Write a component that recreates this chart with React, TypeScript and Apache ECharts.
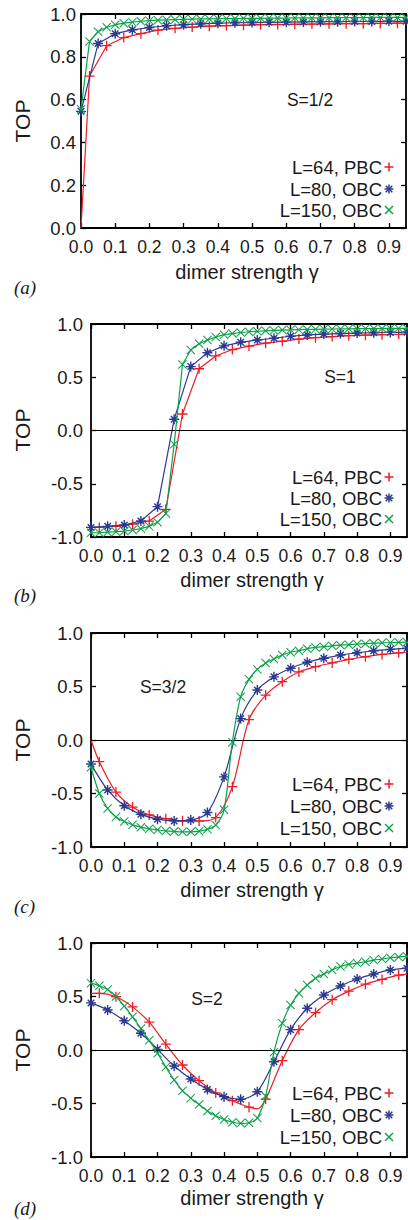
import React, { useEffect, useRef } from "react";
import * as echarts from "echarts";

// ---------- data ----------
const X_FINE = [0, 0.025, 0.05, 0.075, 0.1, 0.125, 0.15, 0.175, 0.2, 0.225, 0.25, 0.275, 0.3, 0.325, 0.35, 0.375, 0.4, 0.425, 0.45, 0.475, 0.5, 0.525, 0.55, 0.575, 0.6, 0.625, 0.65, 0.675, 0.7, 0.725, 0.75, 0.775, 0.8, 0.825, 0.85, 0.875, 0.9, 0.925, 0.95];
const X_COARSE = [0, 0.05, 0.1, 0.15, 0.2, 0.25, 0.3, 0.35, 0.4, 0.45, 0.5, 0.55, 0.6, 0.65, 0.7, 0.75, 0.8, 0.85, 0.9, 0.95];
const X_RED = [0, 0.025, 0.075, 0.125, 0.175, 0.225, 0.275, 0.325, 0.375, 0.425, 0.475, 0.525, 0.575, 0.625, 0.675, 0.725, 0.775, 0.825, 0.875, 0.925, 0.95];
const X_RED_D = [0, 0.025, 0.075, 0.125, 0.175, 0.225, 0.275, 0.325, 0.375, 0.425, 0.475, 0.5, 0.525, 0.575, 0.625, 0.675, 0.725, 0.775, 0.825, 0.875, 0.925, 0.95];

const RED_A = [0.0, 0.71, 0.852, 0.89, 0.908, 0.925, 0.933, 0.939, 0.943, 0.946, 0.948, 0.95, 0.951, 0.952, 0.953, 0.954, 0.955, 0.955, 0.956, 0.957, 0.957];
const BLUE_A = [0.545, 0.862, 0.908, 0.926, 0.937, 0.945, 0.95, 0.954, 0.957, 0.959, 0.96, 0.961, 0.962, 0.963, 0.964, 0.964, 0.965, 0.965, 0.966, 0.966];
const GREEN_A = [0.555, 0.872, 0.917, 0.938, 0.95, 0.957, 0.962, 0.966, 0.969, 0.971, 0.973, 0.974, 0.975, 0.976, 0.977, 0.977, 0.978, 0.979, 0.979, 0.98, 0.98, 0.98, 0.981, 0.981, 0.981, 0.982, 0.982, 0.982, 0.982, 0.983, 0.983, 0.983, 0.983, 0.983, 0.984, 0.984, 0.984, 0.984, 0.984];

const RED_B = [-0.91, -0.91, -0.9, -0.88, -0.85, -0.74, 0.155, 0.58, 0.7, 0.76, 0.793, 0.82, 0.838, 0.858, 0.872, 0.882, 0.89, 0.895, 0.9, 0.903, 0.905];
const BLUE_B = [-0.91, -0.9, -0.887, -0.85, -0.715, 0.105, 0.6, 0.73, 0.795, 0.828, 0.85, 0.866, 0.885, 0.897, 0.905, 0.91, 0.915, 0.918, 0.921, 0.922];
const GREEN_B = [-0.96, -0.96, -0.955, -0.95, -0.944, -0.934, -0.922, -0.9, -0.862, -0.78, -0.13, 0.62, 0.756, 0.815, 0.85, 0.878, 0.9, 0.91, 0.92, 0.927, 0.932, 0.936, 0.94, 0.943, 0.945, 0.947, 0.949, 0.95, 0.952, 0.953, 0.954, 0.955, 0.956, 0.957, 0.957, 0.958, 0.958, 0.959, 0.959];

const RED_C = [0.0, -0.203, -0.487, -0.627, -0.7, -0.735, -0.755, -0.757, -0.725, -0.436, 0.19, 0.42, 0.545, 0.636, 0.685, 0.72, 0.754, 0.778, 0.8, 0.815, 0.82];
const BLUE_C = [-0.225, -0.467, -0.615, -0.695, -0.74, -0.756, -0.748, -0.678, -0.345, 0.2, 0.467, 0.59, 0.67, 0.727, 0.764, 0.794, 0.815, 0.834, 0.847, 0.857];
const GREEN_C = [-0.255, -0.5, -0.64, -0.72, -0.762, -0.792, -0.815, -0.83, -0.84, -0.85, -0.855, -0.858, -0.858, -0.852, -0.835, -0.795, -0.652, -0.02, 0.405, 0.567, 0.66, 0.72, 0.757, 0.794, 0.82, 0.835, 0.853, 0.865, 0.872, 0.88, 0.886, 0.891, 0.897, 0.9, 0.905, 0.908, 0.91, 0.913, 0.914];

const RED_D = [0.53, 0.53, 0.498, 0.403, 0.26, 0.055, -0.14, -0.287, -0.402, -0.474, -0.534, -0.55, -0.46, -0.1, 0.19, 0.35, 0.47, 0.55, 0.615, 0.66, 0.7, 0.71];
const BLUE_D = [0.44, 0.374, 0.274, 0.156, 0.006, -0.15, -0.271, -0.368, -0.436, -0.461, -0.39, -0.11, 0.19, 0.39, 0.514, 0.598, 0.664, 0.71, 0.748, 0.765];
const GREEN_D = [0.625, 0.6, 0.565, 0.5, 0.41, 0.31, 0.2, 0.09, -0.03, -0.16, -0.28, -0.38, -0.45, -0.51, -0.57, -0.615, -0.65, -0.675, -0.685, -0.68, -0.635, -0.43, -0.02, 0.25, 0.42, 0.53, 0.607, 0.67, 0.71, 0.748, 0.78, 0.8, 0.812, 0.825, 0.84, 0.85, 0.862, 0.87, 0.875];

const SERIES_NAMES = ["L=64, PBC", "L=80, OBC", "L=150, OBC"];
const SPIN_LABELS = ["S=1/2", "S=1", "S=3/2", "S=2"];
const PANEL_LABELS = ["(a)", "(b)", "(c)", "(d)"];
const X_TITLE = "dimer strength \u03b3";
const Y_TITLE = "TOP";

// ---------- styling ----------
const RED = "#ed1c24";
const BLUE = "#2b3990";
const GREEN = "#0da04a";
const FONT = "Liberation Sans";
const INK = "#1a1a1a";

const PLUS = "path://M-1.3,-10L1.3,-10L1.3,-1.3L10,-1.3L10,1.3L1.3,1.3L1.3,10L-1.3,10L-1.3,1.3L-10,1.3L-10,-1.3L-1.3,-1.3Z";
const CROSS = "path://M-10,-8.4L-8.4,-10L0,-1.6L8.4,-10L10,-8.4L1.6,0L10,8.4L8.4,10L0,1.6L-8.4,10L-10,8.4L-1.6,0Z";
const STAR =
  "path://M-1.4,-10L1.4,-10L1.4,-1.4L10,-1.4L10,1.4L1.4,1.4L1.4,10L-1.4,10L-1.4,1.4L-10,1.4L-10,-1.4L-1.4,-1.4Z" +
  "M-7.5,-5.5L-5.5,-7.5L0,-2L5.5,-7.5L7.5,-5.5L2,0L7.5,5.5L5.5,7.5L0,2L-5.5,7.5L-7.5,5.5L-2,0Z";

const PANELS = [
  {
    grid: { left: 81, top: 14, width: 325, height: 214 },
    yMin: 0, yMax: 1, yInt: 0.2, yMargin: 5, smooth: false, zero: false,
    red: [X_RED, RED_A], blue: [X_COARSE, BLUE_A], green: [X_FINE, GREEN_A],
    yTitleY: 121, xTitle: [247, 272], spin: [310, 100], panelY: 287, legendY: [167, 189, 210],
  },
  {
    grid: { left: 91, top: 324, width: 316, height: 213 },
    yMin: -1, yMax: 1, yInt: 0.5, yMargin: 8, smooth: false, zero: true,
    red: [X_RED, RED_B], blue: [X_COARSE, BLUE_B], green: [X_FINE, GREEN_B],
    yTitleY: 430, xTitle: [252, 580], spin: [340, 377], panelY: 595, legendY: [477, 498, 519],
  },
  {
    grid: { left: 91, top: 633, width: 316, height: 214 },
    yMin: -1, yMax: 1, yInt: 0.5, yMargin: 8, smooth: 0.3, zero: true,
    red: [X_RED, RED_C], blue: [X_COARSE, BLUE_C], green: [X_FINE, GREEN_C],
    yTitleY: 740, xTitle: [252, 890], spin: [163, 687], panelY: 906, legendY: [784, 806, 828],
  },
  {
    grid: { left: 91, top: 943, width: 316, height: 214 },
    yMin: -1, yMax: 1, yInt: 0.5, yMargin: 8, smooth: 0.3, zero: true,
    red: [X_RED_D, RED_D], blue: [X_COARSE, BLUE_D], green: [X_FINE, GREEN_D],
    yTitleY: 1050, xTitle: [252, 1198], spin: [207, 999], panelY: 1208, legendY: [1093, 1115, 1137],
  },
];

const fmt = (v: number) => v.toFixed(1);

function buildOption() {
  const grid: any[] = [];
  const xAxis: any[] = [];
  const yAxis: any[] = [];
  const series: any[] = [];
  const graphic: any[] = [];

  const axisLine = { show: true, onZero: false, lineStyle: { color: "#000", width: 1.8 } };
  const axisTick = { show: true, inside: true, length: 5, lineStyle: { color: "#000", width: 1.3 } };

  PANELS.forEach((p, i) => {
    grid.push({ ...p.grid, show: false });
    const xBase = {
      type: "value", gridIndex: i, min: 0, max: 0.95, interval: 0.1,
      axisLine, axisTick, splitLine: { show: false },
    };
    xAxis.push({
      ...xBase, position: "bottom",
      axisLabel: { show: true, formatter: fmt, showMaxLabel: false, fontFamily: FONT, fontSize: 17.5, color: INK, margin: 10 },
    });
    xAxis.push({ ...xBase, position: "top", axisLabel: { show: false } });
    const yBase = {
      type: "value", gridIndex: i, min: p.yMin, max: p.yMax, interval: p.yInt,
      axisLine, axisTick, splitLine: { show: false },
    };
    yAxis.push({
      ...yBase, position: "left",
      axisLabel: { show: true, formatter: fmt, fontFamily: FONT, fontSize: 18.5, color: INK, margin: p.yMargin },
    });
    yAxis.push({ ...yBase, position: "right", axisLabel: { show: false } });

    const common = {
      type: "line", xAxisIndex: 2 * i, yAxisIndex: 2 * i, smooth: p.smooth,
      clip: true, animation: false, showAllSymbol: true, symbolSize: 10,
      emphasis: { disabled: true },
    };
    const redData = p.red[0].map((x, k) => {
      const marked = Math.round(x * 40) % 2 === 1;
      return marked ? { value: [x, p.red[1][k]] } : { value: [x, p.red[1][k]], symbol: "none" };
    });
    const red: any = {
      ...common, name: SERIES_NAMES[0], data: redData, symbol: PLUS, z: 3,
      lineStyle: { color: RED, width: 1.2 }, itemStyle: { color: RED, borderWidth: 0 },
    };
    if (p.zero) {
      red.markLine = {
        silent: true, symbol: ["none", "none"], label: { show: false }, animation: false,
        lineStyle: { color: "#000", width: 1.1, type: "solid" }, data: [{ yAxis: 0 }],
      };
    }
    series.push(red);
    series.push({
      ...common, name: SERIES_NAMES[1], data: p.blue[0].map((x, k) => [x, p.blue[1][k]]), symbol: STAR, z: 4,
      lineStyle: { color: BLUE, width: 1.2 }, itemStyle: { color: BLUE, borderWidth: 0 },
    });
    series.push({
      ...common, name: SERIES_NAMES[2], data: p.green[0].map((x, k) => [x, p.green[1][k]]), symbol: CROSS, symbolSize: 9, z: 5,
      lineStyle: { color: GREEN, width: 1.2 }, itemStyle: { color: GREEN, borderWidth: 0 },
    });

    const txt = (x: number, y: number, text: string, size: number, align: string, extra: any = {}) => ({
      type: "text", x, y, ...extra,
      style: {
        text, fontFamily: FONT, fontSize: size, fill: INK,
        align, verticalAlign: "middle", textAlign: align, textVerticalAlign: "middle",
        ...(extra.style || {}),
      },
    });

    graphic.push(txt(22, p.yTitleY, Y_TITLE, 21, "center", { rotation: Math.PI / 2 }));
    graphic.push(txt(p.xTitle[0], p.xTitle[1], X_TITLE, 20, "center"));
    graphic.push(txt(p.spin[0], p.spin[1], SPIN_LABELS[i], 17.5, "center"));
    graphic.push({
      type: "text", x: 14, y: p.panelY,
      style: {
        text: PANEL_LABELS[i], fontFamily: "Liberation Serif", fontStyle: "italic", fontSize: 19, fill: INK,
        align: "left", verticalAlign: "middle", textAlign: "left", textVerticalAlign: "middle",
      },
    });
    // legend
    SERIES_NAMES.forEach((name, k) => {
      const ly = p.legendY[k];
      graphic.push(txt(382, ly, name, 18.5, "right"));
      const cx = 389;
      const col = [RED, BLUE, GREEN][k];
      const ls = { stroke: col, lineWidth: 1.5 };
      const seg = (x1: number, y1: number, x2: number, y2: number) => ({ type: "line", shape: { x1, y1, x2, y2 }, style: ls });
      if (k === 0 || k === 1) {
        graphic.push(seg(cx - 4.5, ly, cx + 4.5, ly));
        graphic.push(seg(cx, ly - 4.5, cx, ly + 4.5));
      }
      if (k === 1) {
        graphic.push(seg(cx - 3.3, ly - 3.3, cx + 3.3, ly + 3.3));
        graphic.push(seg(cx - 3.3, ly + 3.3, cx + 3.3, ly - 3.3));
      }
      if (k === 2) {
        graphic.push(seg(cx - 4, ly - 4, cx + 4, ly + 4));
        graphic.push(seg(cx - 4, ly + 4, cx + 4, ly - 4));
      }
    });
  });

  return {
    animation: false,
    backgroundColor: "#ffffff",
    textStyle: { fontFamily: FONT },
    grid, xAxis, yAxis, series, graphic,
  };
}

export default function App() {
  const ref = useRef<HTMLDivElement>(null);
  useEffect(() => {
    document.body.style.margin = "0";
    if (!ref.current) return;
    const chart = echarts.init(ref.current, undefined, { renderer: "svg" });
    chart.setOption(buildOption() as any);
    return () => chart.dispose();
  }, []);
  return <div ref={ref} style={{ width: 408, height: 1220, background: "#fff" }} />;
}
